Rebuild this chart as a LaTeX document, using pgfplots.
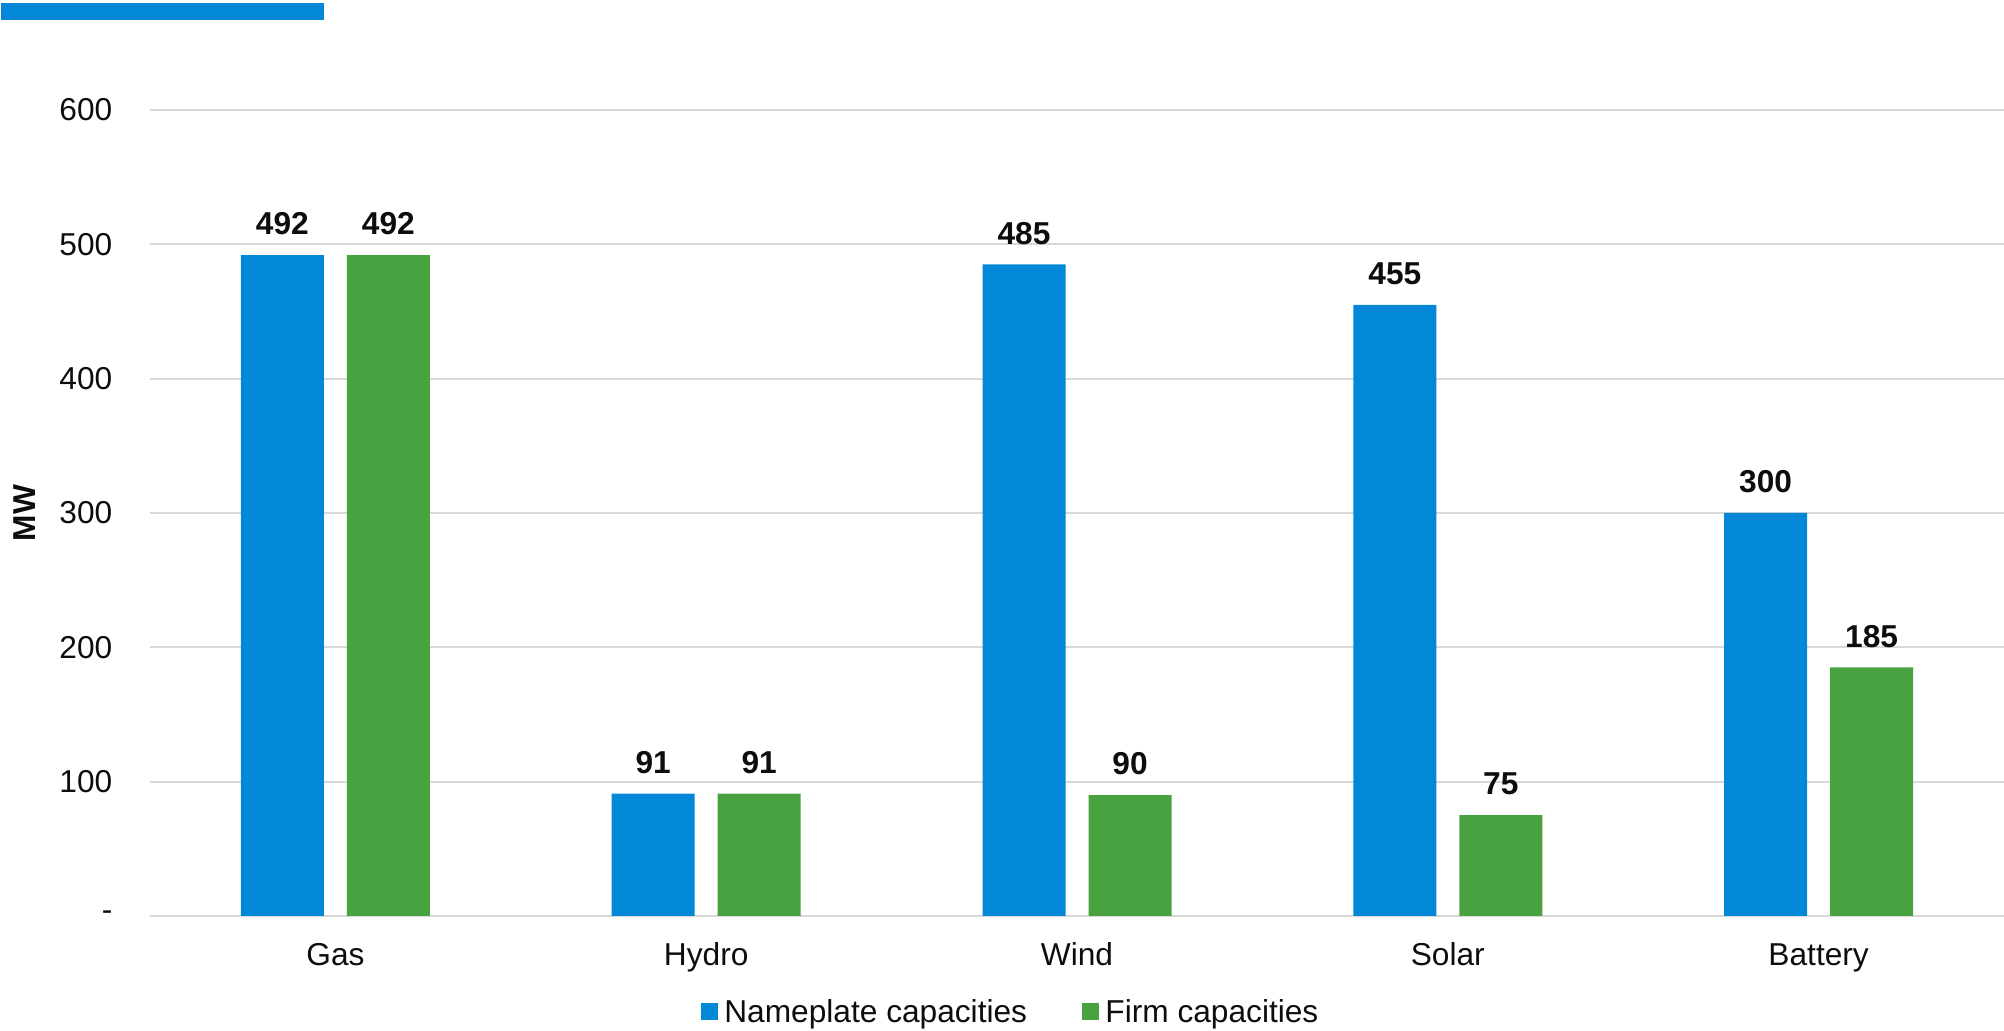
\documentclass[border=0pt]{standalone}
\usepackage{fontspec}
\setmainfont{Liberation Sans}
\usepackage{pgfplots}
\pgfplotsset{compat=1.18}
\definecolor{cblue}{HTML}{0288D6}
\definecolor{cgreen}{HTML}{48A23F}
\definecolor{cgrid}{HTML}{D9D9D9}
\definecolor{ctext}{HTML}{0D0D0D}
\newcommand{\fs}{\fontsize{9.5}{11}\selectfont}
\begin{document}
\begin{tikzpicture}
\useasboundingbox (-45pt,-34.5pt) rectangle (556.2pt,274.8pt);
\fill[cblue] (-44.7pt,268.8pt) rectangle (52.2pt,273.9pt);
\begin{axis}[
  at={(0,0)}, anchor=south west,
  scale only axis, width=556.2pt, height=241.8pt,
  xmin=-0.5, xmax=4.5, ymin=0, ymax=600,
  ybar=6.9pt, bar width=24.9pt,
  axis line style={draw=none},
  ymajorgrids, major grid style={cgrid, line width=0.6pt},
  xtick={0,...,4}, xticklabels={Gas,Hydro,Wind,Solar,Battery},
  ytick={0,100,...,600}, yticklabels={-\hspace{5.4pt},100,200,300,400,500,600},
  major tick length=0pt,
  tick label style={font=\fs, text=ctext},
  xticklabel style={anchor=base, inner sep=0pt, yshift=-15pt},
  yticklabel style={anchor=east, inner sep=0pt, xshift=-11.1pt},
  /pgf/number format/assume math mode=true,
  nodes near coords,
  nodes near coords style={font=\bfseries\fs, text=ctext, inner sep=0pt, anchor=south, yshift=5.8pt},
  ylabel={MW},
  ylabel style={at={(axis description cs:-0.0674,0.5)}, anchor=center, font=\bfseries\fs, text=ctext},
  legend style={at={(axis description cs:0.4655,-0.1216)}, anchor=center, draw=none, font=\fs, text=ctext,
    legend columns=2, /tikz/every even column/.style={column sep=14.5pt}},
  legend image code/.code={\fill[#1] (0pt,-1.7pt) rectangle (5.0pt,3.3pt);},
  clip=false,
]
\addplot[fill=cblue, draw=none] coordinates {(0,492) (1,91) (2,485) (3,455) (4,300)};
\addplot[fill=cgreen, draw=none] coordinates {(0,492) (1,91) (2,90) (3,75) (4,185)};
\legend{Nameplate capacities, Firm capacities}
\end{axis}
\end{tikzpicture}
\end{document}
